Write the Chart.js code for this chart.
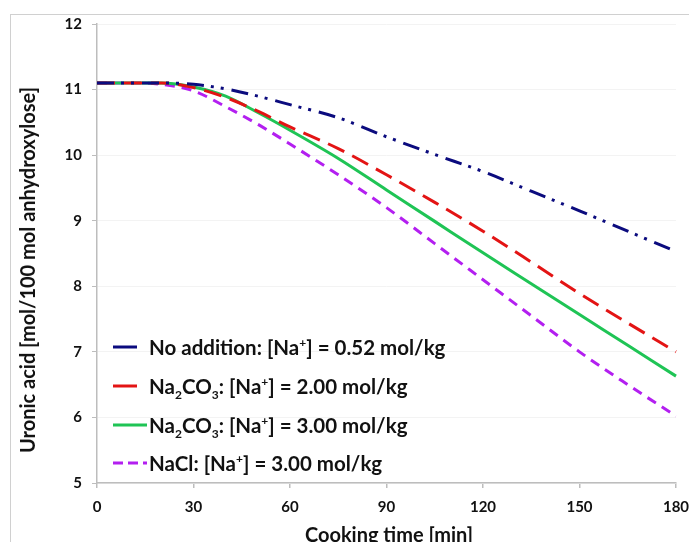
<!DOCTYPE html>
<html>
<head>
<meta charset="utf-8">
<script src="https://cdn.jsdelivr.net/npm/chart.js@4.4.1/dist/chart.umd.min.js"></script>
<style>
  html, body { margin: 0; padding: 0; background: #fff; overflow: hidden; }
  #wrap { position: relative; width: 689px; height: 542px; }
  #frame { position: absolute; left: 10px; top: 14px; width: 720px; height: 600px; border: 1.5px solid #d0d0d0; box-sizing: border-box; }
  #myChart { position: absolute; left: 0; top: 0; }
  .axTitle { position: absolute; font-family: Lato, sans-serif; font-weight: bold; font-size: 20px; color: #111; white-space: nowrap; }
  #yTitle { left: 27px; top: 270px; transform: translate(-50%, -50%) rotate(-90deg); }
  #xTitle { left: 389px; top: 534px; transform: translate(-50%, -50%); }
  #legend { position: absolute; left: 113px; top: 328px; font-family: Lato, sans-serif; font-weight: bold; font-size: 20.5px; color: #111; }
  #legend .row { height: 38.7px; display: flex; align-items: center; white-space: nowrap; }
  #legend svg { width: 36px; height: 6px; flex: none; }
  #legend sub, #legend sup { font-size: 12px; line-height: 0; }
</style>
</head>
<body>
<div id="wrap">
  <div id="frame"></div>
  <canvas id="myChart" width="689" height="542"></canvas>
  <div class="axTitle" id="yTitle">Uronic acid [mol/100 mol anhydroxylose]</div>
  <div class="axTitle" id="xTitle">Cooking time [min]</div>
  <div id="legend"></div>
</div>
<script>
//-- data ---->
var times = [0, 10, 20, 30, 40, 50, 60, 75, 90, 105, 120, 135, 150, 165, 180];   //-- cooking time [min]
var noAddition = [11.1, 11.1, 11.1, 11.08, 11.01, 10.9, 10.77, 10.57, 10.28, 10.01, 9.75, 9.45, 9.15, 8.84, 8.53];
var na2co3Low  = [11.1, 11.1, 11.1, 11.03, 10.88, 10.67, 10.43, 10.1, 9.7, 9.28, 8.84, 8.37, 7.89, 7.44, 7.0];
var na2co3High = [11.1, 11.1, 11.1, 11.04, 10.9, 10.65, 10.38, 9.95, 9.47, 8.99, 8.51, 8.04, 7.57, 7.1, 6.63];
var naclHigh   = [11.1, 11.1, 11.08, 10.98, 10.74, 10.47, 10.17, 9.7, 9.2, 8.65, 8.1, 7.55, 7.0, 6.5, 6.02];
var seriesLabels = [
    'No addition: [Na<sup>+</sup>] = 0.52 mol/kg',
    'Na<sub>2</sub>CO<sub>3</sub>: [Na<sup>+</sup>] = 2.00 mol/kg',
    'Na<sub>2</sub>CO<sub>3</sub>: [Na<sup>+</sup>] = 3.00 mol/kg',
    'NaCl: [Na<sup>+</sup>] = 3.00 mol/kg'
];
var xTicks = [0, 30, 60, 90, 120, 150, 180];
var yTicks = [5, 6, 7, 8, 9, 10, 11, 12];

//-- styles of each line ---->
var colors = ['#0b0b7e', '#e31414', '#1fc455', '#b31ff0'];
var dashes = [[17, 7, 3, 7, 3, 8], [18, 9], [], [10, 7]];
var legendDash = [[], [], [], [10, 5]];      //-- sample line in legend
var legendLen = [24, 24, 34, 34];

function pts(ys) {
    var out = [];
    for (let i = 0; i < times.length; i++) {
        out.push({ x: times[i], y: ys[i] });
    }
    return out;
}

var allSeries = [noAddition, na2co3Low, na2co3High, naclHigh];
var datasets = [];
for (let i = 0; i < allSeries.length; i++) {
    datasets.push({
        label: seriesLabels[i].replace(/<[^>]+>/g, ''),
        data: pts(allSeries[i]),
        borderColor: colors[i],
        backgroundColor: colors[i],
        borderWidth: 3,
        borderDash: dashes[i],
        pointRadius: 0,
        cubicInterpolationMode: 'monotone',
        clip: false,
        fill: false
    });
}

//-- chart ---->
var ctx = document.getElementById('myChart');
var tickFont = { family: 'Lato, sans-serif', size: 15, weight: 'bold' };
var myChart = new Chart(ctx, {
    type: 'line',
    data: { datasets: datasets },
    options: {
        responsive: false,
        animation: false,
        layout: { padding: { top: 24, right: 13, bottom: 0, left: 0 } },
        plugins: { legend: { display: false }, tooltip: { enabled: false } },
        scales: {
            x: {
                type: 'linear',
                min: 0, max: 180,
                afterBuildTicks: function (s) { s.ticks = xTicks.map(v => ({ value: v })); },
                afterFit: function (s) { s.height = 59; s.paddingLeft = 0; s.paddingRight = 0; },
                border: { color: '#bdbdbd', width: 1.5 },
                grid: { drawOnChartArea: false, tickLength: 5, color: '#bdbdbd', lineWidth: 1.5 },
                ticks: { font: tickFont, color: '#111', padding: 10, maxRotation: 0 }
            },
            y: {
                min: 5, max: 12,
                afterBuildTicks: function (s) { s.ticks = yTicks.map(v => ({ value: v })); },
                afterFit: function (s) { s.width = 97; s.paddingTop = 0; s.paddingBottom = 0; },
                border: { color: '#bdbdbd', width: 1.5 },
                grid: { color: '#f3f3f3', lineWidth: 1, tickLength: 5, tickColor: '#bdbdbd' },
                ticks: { font: tickFont, color: '#111', padding: 10 }
            }
        }
    }
});

//-- legend inside the plot ---->
var rows = [];
for (let i = 0; i < seriesLabels.length; i++) {
    rows.push(`<div class="row"><svg viewBox="0 0 36 6"><line x1="0" y1="3" x2="${legendLen[i]}" y2="3" stroke="${colors[i]}" stroke-width="3" stroke-dasharray="${legendDash[i].join(' ')}"/></svg><span>${seriesLabels[i]}</span></div>`);
}
document.getElementById('legend').innerHTML = rows.join('');
</script>
</body>
</html>
